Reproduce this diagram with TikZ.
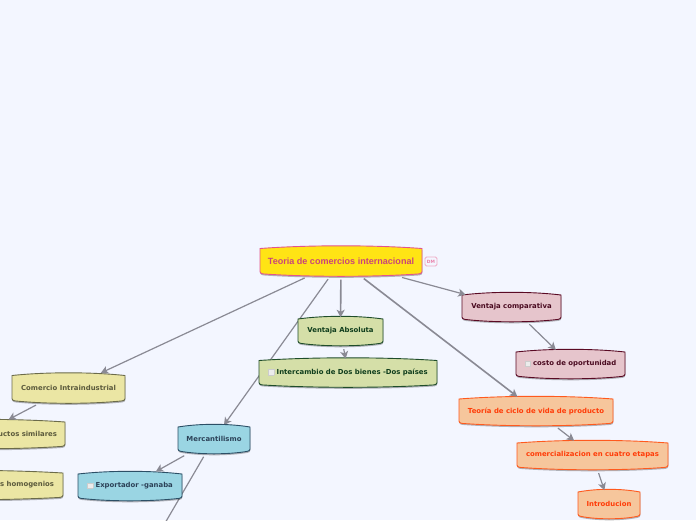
\documentclass[tikz,border=0pt]{standalone}
\usepackage{fontspec}
\setmainfont{DejaVu Sans}
\newfontfamily\titlefont{Liberation Sans}
\usetikzlibrary{arrows.meta}
\pgfdeclarelayer{bgl}
\pgfdeclarelayer{conn}
\pgfdeclarelayer{boxes}
\pgfsetlayers{bgl,conn,boxes,main}
\definecolor{pagebg}{HTML}{F3F6FF}
\definecolor{linkc}{HTML}{8A8A94}
\definecolor{rootf}{HTML}{FFE414}\definecolor{rootd}{HTML}{E2558C}\definecolor{roott}{HTML}{C9457A}
\definecolor{greenf}{HTML}{D5DFA8}\definecolor{greend}{HTML}{1F4D2A}\definecolor{greent}{HTML}{0F3D1C}
\definecolor{yellf}{HTML}{EBE6A4}\definecolor{yelld}{HTML}{6B6B4A}\definecolor{yellt}{HTML}{5B5A3C}
\definecolor{bluef}{HTML}{9AD5E3}\definecolor{blued}{HTML}{2C4F66}\definecolor{bluet}{HTML}{2C4258}
\definecolor{mauvf}{HTML}{E6C5CC}\definecolor{mauvd}{HTML}{5A0A24}\definecolor{mauvt}{HTML}{4A0A20}
\definecolor{orgf}{HTML}{F6C69C}\definecolor{orgd}{HTML}{FF5A1E}\definecolor{orgt}{HTML}{FF3C08}
\newcommand{\mmicon}{{\setlength{\fboxsep}{0pt}\setlength{\fboxrule}{0.3pt}\fcolorbox{gray!40}{gray!15}{\rule[-0.4pt]{0pt}{5.4pt}\rule{5.4pt}{0pt}}}\hspace{2.4pt}}
\newcommand{\mmbarrel}{(-\mmhw,-\mmhh+3) .. controls (-\mmhw*0.4,-\mmhh-0.6) and (\mmhw*0.4,-\mmhh-0.6) .. (\mmhw,-\mmhh+3) -- (\mmhw,\mmhh-5) .. controls (\mmhw,\mmhh-3.5) and (\mmhw-1,\mmhh-3) .. (\mmhw-3,\mmhh-2.6) .. controls (\mmhw*0.4,\mmhh+0.6) and (-\mmhw*0.4,\mmhh+0.6) .. (-\mmhw+3,\mmhh-2.6) .. controls (-\mmhw+1,\mmhh-3) and (-\mmhw,\mmhh-3.5) .. (-\mmhw,\mmhh-5) -- cycle}
% name, fill, draw, text colour, cx, cy, w, h, text
\newcommand{\mmnode}[9]{%
  \pgfmathsetmacro{\mmhw}{#7/2}\pgfmathsetmacro{\mmhh}{#8/2}
  \begin{pgfonlayer}{boxes}
    \begin{scope}[shift={(#5,#6)}]
      \fill[black,opacity=0.28] [shift={(0.3,1.5)}] \mmbarrel;
      \draw[fill=#2,draw=#3,line width=0.9pt] \mmbarrel;
    \end{scope}
  \end{pgfonlayer}
  \node[mmtext,text=#4,minimum width=#7 pt,minimum height=#8 pt] (#1) at (#5,#6) {#9};
}
\tikzset{
  mmtext/.style={rectangle,inner sep=0pt,font=\bfseries\fontsize{6.9}{8}\selectfont},
  link/.style={draw=linkc,line width=1.2pt,shorten <=3pt,shorten >=-1.5pt,-{Stealth[length=7.5pt,width=8pt,inset=2pt]}},
  linkb/.style={link,line width=1.6pt},
  badge/.style={rectangle,rounded corners=1.5pt,draw=rootd!50,fill=pagebg,line width=0.8pt,text=rootd!75,inner sep=0pt,minimum width=12pt,minimum height=9pt,font=\bfseries\fontsize{4.4}{5}\selectfont}
}
\begin{document}
\begin{tikzpicture}[x=1pt,y=-1pt]
\useasboundingbox (0,0) rectangle (696,520);
\clip (0,0) rectangle (696,520);
\begin{pgfonlayer}{bgl}
  \fill[pagebg] (0,0) rectangle (696,520);
\end{pgfonlayer}
\mmnode{root}{rootf}{rootd}{roott}{341}{261}{162}{31}{\titlefont\fontsize{9.05}{10}\selectfont Teoria de comercios internacional}
\node[badge] (dm) at (431,261.5) {DM};
\mmnode{abs}{greenf}{greend}{greent}{340.5}{331}{85}{30}{Ventaja Absoluta}
\mmnode{inter}{greenf}{greend}{greent}{348}{372.5}{178}{30}{\mmicon Intercambio de Dos bienes -Dos países}
\mmnode{comer}{yellf}{yelld}{yellt}{68.5}{388}{113}{31}{Comercio Intraindustrial}
\mmnode{simil}{yellf}{yelld}{yellt}{-19}{434}{168}{30}{\makebox[152pt][r]{Productos similares}}
\mmnode{homog}{yellf}{yelld}{yellt}{-37}{485}{200}{30}{\makebox[182pt][r]{Productos homogenios}}
\mmnode{merc}{bluef}{blued}{bluet}{214}{439}{72}{30}{Mercantilismo}
\mmnode{expo}{bluef}{blued}{bluet}{130}{486}{104}{30}{\mmicon Exportador -ganaba}
\mmnode{comp}{mauvf}{mauvd}{mauvt}{511.5}{307}{99}{30}{Ventaja comparativa}
\mmnode{costo}{mauvf}{mauvd}{mauvt}{570.5}{364}{109}{30}{\mmicon costo de oportunidad}
\mmnode{ciclo}{orgf}{orgd}{orgt}{536}{411}{154}{30}{Teoría de ciclo de vida de producto}
\mmnode{etapas}{orgf}{orgd}{orgt}{592.5}{455}{151}{30}{comercializacion en cuatro etapas}
\mmnode{intro}{orgf}{orgd}{orgt}{609}{504}{62}{30}{Introducion}
\coordinate (mercout) at (140,566);
\begin{pgfonlayer}{boxes}
  \draw[link,shorten >=-4pt] (root) -- (comp);
  \draw[link] (root) -- (comer);
  \draw[linkb] (root) -- (abs);
  \draw[linkb] (root) -- (ciclo);
  \draw[link] (abs) -- (inter);
  \draw[link] (comer) -- (simil);
  \draw[link] (merc) -- (expo);
  \draw[link] (comp) -- (costo);
  \draw[link] (ciclo) -- (etapas);
  \draw[link] (etapas) -- (intro);
\end{pgfonlayer}
\begin{pgfonlayer}{conn}
  \draw[link] (root) -- (merc);
  \draw[link] (merc) -- (mercout);
\end{pgfonlayer}
\end{tikzpicture}
\end{document}
